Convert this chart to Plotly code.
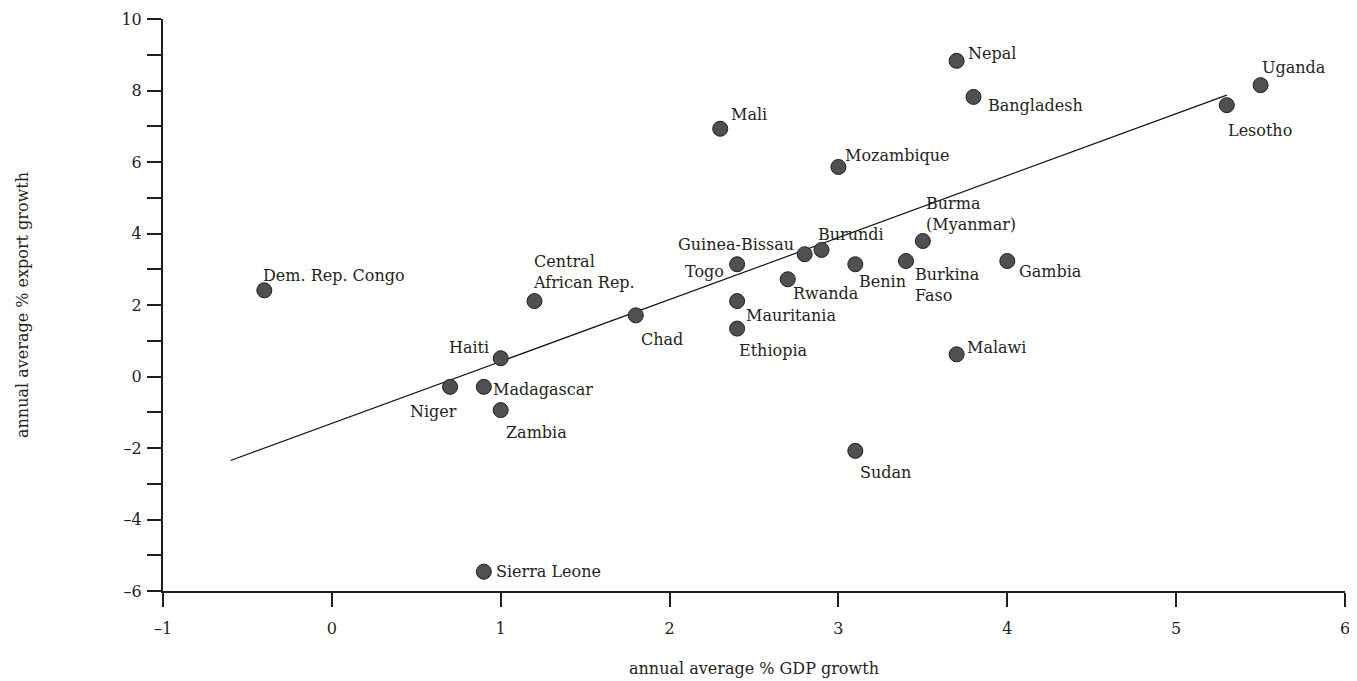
import plotly.graph_objects as go

# ---- data ----
countries = ["Nepal", "Uganda", "Bangladesh", "Lesotho", "Mali", "Mozambique",
             "Burma<br>(Myanmar)", "Burundi", "Guinea-Bissau", "Togo", "Benin",
             "Burkina<br>Faso", "Gambia", "Rwanda", "Mauritania", "Ethiopia", "Chad",
             "Central<br>African Rep.", "Dem. Rep. Congo", "Haiti", "Niger",
             "Madagascar", "Zambia", "Malawi", "Sudan", "Sierra Leone"]
gdp_growth = [3.7, 5.5, 3.8, 5.3, 2.3, 3.0,
              3.5, 2.9, 2.8, 2.4, 3.1,
              3.4, 4.0, 2.7, 2.4, 2.4, 1.8,
              1.2, -0.4, 1.0, 0.7,
              0.9, 1.0, 3.7, 3.1, 0.9]
export_growth = [8.83, 8.15, 7.82, 7.59, 6.93, 5.86,
                 3.79, 3.54, 3.42, 3.14, 3.14,
                 3.23, 3.23, 2.72, 2.11, 1.34, 1.71,
                 2.11, 2.41, 0.51, -0.29,
                 -0.29, -0.94, 0.62, -2.08, -5.46]
fit_x = [-0.6, 5.3]
fit_y = [-2.35, 7.87]

x_ticks = [-1, 0, 1, 2, 3, 4, 5, 6]
x_tick_text = ["\u20131", "0", "1", "2", "3", "4", "5", "6"]
y_ticks = list(range(-6, 11))
y_tick_text = [(str(v).replace("-", "\u2013") if v % 2 == 0 else "") for v in y_ticks]

# ---- label placement (anchor, x shift px, y shift px) ----
placement = {
    "Nepal": ("left", 10, 7),
    "Uganda": ("left", 0, 18),
    "Bangladesh": ("left", 13, -9),
    "Lesotho": ("left", 0, -25),
    "Mali": ("left", 10, 14),
    "Mozambique": ("left", 6, 12),
    "Burma<br>(Myanmar)": ("left", 2, 27),
    "Burundi": ("left", -5, 15),
    "Guinea-Bissau": ("right", -10, 10),
    "Togo": ("right", -12, -7),
    "Benin": ("left", 3, -17),
    "Burkina<br>Faso": ("left", 8, -24),
    "Gambia": ("left", 11, -10),
    "Rwanda": ("left", 4, -14),
    "Mauritania": ("left", 8, -14),
    "Ethiopia": ("left", 1, -22),
    "Chad": ("left", 4, -24),
    "Central<br>African Rep.": ("left", -2, 29),
    "Dem. Rep. Congo": ("left", -2, 15),
    "Haiti": ("right", -11, 11),
    "Niger": ("right", 8, -25),
    "Madagascar": ("left", 8, -3),
    "Zambia": ("left", 4, -22),
    "Malawi": ("left", 9, 7),
    "Sudan": ("left", 4, -22),
    "Sierra Leone": ("left", 11, 0),
}

FONT = "DejaVu Serif"
TXT = "#231f20"

fig = go.Figure()
fig.add_trace(go.Scatter(x=fit_x, y=fit_y, mode="lines",
                         line=dict(color="#111111", width=1.2),
                         hoverinfo="skip", showlegend=False))
fig.add_trace(go.Scatter(x=gdp_growth, y=export_growth, mode="markers",
                         marker=dict(size=15, color="#505052",
                                     line=dict(color="#1e1e1e", width=1)),
                         text=countries, showlegend=False))

annotations = []
for name, xv, yv in zip(countries, gdp_growth, export_growth):
    anchor, dx, dy = placement[name]
    annotations.append(dict(x=xv, y=yv, xref="x", yref="y", text=name,
                            showarrow=False, xanchor=anchor, yanchor="middle",
                            align="left", xshift=dx, yshift=dy, borderpad=0,
                            font=dict(family=FONT, size=16, color=TXT)))

annotations.append(dict(x=0.5, y=0, xref="paper", yref="paper",
                        text="annual average % GDP growth", showarrow=False,
                        xanchor="center", yanchor="middle", yshift=-77,
                        font=dict(family=FONT, size=16, color=TXT)))
annotations.append(dict(x=0, y=0.5, xref="paper", yref="paper",
                        text="annual average % export growth", showarrow=False,
                        xanchor="center", yanchor="middle", xshift=-141,
                        textangle=-90,
                        font=dict(family=FONT, size=16, color=TXT)))

axis_common = dict(showgrid=False, zeroline=False, showline=True,
                   linecolor="#231f20", linewidth=2, ticks="outside",
                   ticklen=14, tickwidth=2, tickcolor="#231f20",
                   automargin=False,
                   tickfont=dict(family=FONT, size=16, color=TXT))

# page has an 8px body margin: figure origin sits at (8, 8)
fig.update_layout(
    width=1341, height=673,
    margin=dict(l=155, r=4, t=11, b=90),
    paper_bgcolor="white", plot_bgcolor="white",
    xaxis=dict(range=[-1, 6], tickvals=x_ticks, ticktext=x_tick_text,
               ticklabelstandoff=8, ticklabeloverflow="allow", **axis_common),
    yaxis=dict(range=[-6, 10], tickvals=y_ticks, ticktext=y_tick_text,
               ticklabelstandoff=2, **axis_common),
    annotations=annotations,
)

fig.write_html("out.html")
